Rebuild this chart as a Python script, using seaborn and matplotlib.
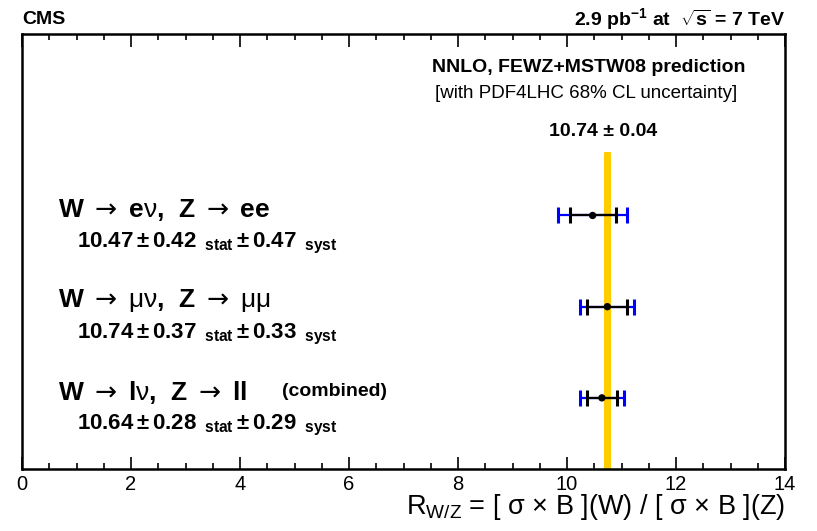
import numpy as np
import pandas as pd
import seaborn as sns
import matplotlib.pyplot as plt
from matplotlib.ticker import MultipleLocator

# measurements of R_W/Z (CMS, 2.9 pb^-1)
channels = [r'W $\mathsf{\rightarrow}$ e$\mathrm{\nu}$,  Z $\mathsf{\rightarrow}$ ee',
            r'W $\mathsf{\rightarrow}$ $\mathrm{\mu\nu}$,  Z $\mathsf{\rightarrow}$ $\mathrm{\mu\mu}$',
            r'W $\mathsf{\rightarrow}$ l$\mathrm{\nu}$,  Z $\mathsf{\rightarrow}$ ll']
ratio = [10.47, 10.74, 10.64]
stat = [0.42, 0.37, 0.28]
syst = [0.47, 0.33, 0.29]
row_pos = [3, 2, 1]
theory = 10.74
theory_err = 0.04

df = pd.DataFrame({'channel': channels, 'ratio': ratio, 'stat': stat,
                   'syst': syst, 'row': row_pos})
df['total'] = np.sqrt(df['stat']**2 + df['syst']**2)

sns.set_style("ticks", {'axes.edgecolor': 'black', 'text.color': 'black',
                        'xtick.color': 'black', 'axes.labelcolor': 'black'})
plt.rcParams['font.family'] = ['Liberation Sans', 'DejaVu Sans']
plt.rcParams['mathtext.fontset'] = 'custom'
plt.rcParams['mathtext.rm'] = 'Liberation Sans'
plt.rcParams['mathtext.bf'] = 'Liberation Sans:bold'
plt.rcParams['mathtext.it'] = 'Liberation Sans:italic'
plt.rcParams['mathtext.sf'] = 'DejaVu Sans'

W, H = 817, 531
fig = plt.figure(figsize=(W/100, H/100), dpi=100)
ax = fig.add_axes([22/W, 1-469/H, (785-22)/W, (469-34)/H])

# theory band
ax.fill_betweenx([0.22, 3.69], theory - theory_err, theory + theory_err,
                 color='#ffcc00', lw=1.5, edgecolor='#ffcc00', zorder=1)

# total (blue) and stat (black) errors
ax.errorbar(df['ratio'], df['row'], xerr=df['total'], fmt='none',
            ecolor='#0000ff', elinewidth=1.6, capsize=6, capthick=2.2, zorder=2)
ax.errorbar(df['ratio'], df['row'], xerr=df['stat'], fmt='none',
            ecolor='black', elinewidth=1.6, capsize=5.5, capthick=2.2, zorder=3)
sns.scatterplot(data=df, x='ratio', y='row', color='black', s=28,
                edgecolor='none', zorder=4, ax=ax, legend=False)

ax.set_xlim(0, 14)
ax.set_ylim(0.22, 4.99)
ax.xaxis.set_major_locator(MultipleLocator(2))
ax.xaxis.set_minor_locator(MultipleLocator(0.5))
ax.tick_params(axis='x', which='both', direction='in', top=True,
               labelsize=14.5, pad=4, width=1.2, colors='black')
ax.tick_params(axis='x', which='major', length=9)
ax.tick_params(axis='x', which='minor', length=4.5)
ax.set_yticks([])
ax.set_ylabel('')
for s in ax.spines.values():
    s.set_linewidth(1.8)
    s.set_color('black')
ax.set_xlabel(r'R$_{\mathrm{W/Z}}$ = [ σ × B ](W) / [ σ × B ](Z)', fontsize=19.5,
              loc='right', labelpad=-1, color='black')

def fx(px):
    return px / W

def fy(py):
    return 1 - py / H

fig.text(fx(22), fy(19), 'CMS', fontsize=14, fontweight='bold', va='center')
fig.text(fx(785), fy(19), r'2.9 pb$^{\mathbf{-1}}$ at  $\sqrt{\mathbf{s}}$ = 7 TeV',
         fontsize=14, fontweight='bold', va='center', ha='right')

fig.text(fx(589), fy(68), 'NNLO, FEWZ+MSTW08 prediction', fontsize=14,
         fontweight='bold', ha='center', va='center')
fig.text(fx(586), fy(94), '[with PDF4LHC 68% CL uncertainty]', fontsize=13.5,
         ha='center', va='center')
fig.text(fx(603), fy(131), f'{theory:.2f} ± {theory_err:.2f}', fontsize=14,
         fontweight='bold', ha='center', va='center')

for i, r in df.iterrows():
    y0 = 210 + 91 * i
    fig.text(fx(58), fy(y0), r['channel'], fontsize=19, fontweight='bold',
             va='center')
    txt = (r'$\mathbf{%.2f \pm %.2f_{\ \ stat} \pm %.2f_{\ \ syst}}$'
           % (r['ratio'], r['stat'], r['syst']))
    fig.text(fx(77), fy(y0 + 33), txt, fontsize=16, va='center')
fig.text(fx(282), fy(392), '(combined)', fontsize=14, fontweight='bold',
         va='center')

fig.savefig('out.png', dpi=100)
